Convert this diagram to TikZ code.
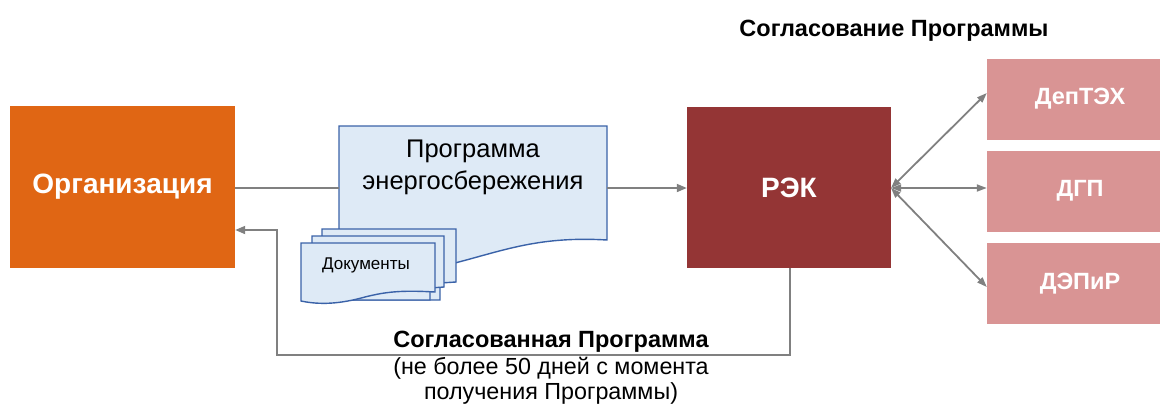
\documentclass[tikz,border=0pt]{standalone}
\usepackage{fontspec}
\setmainfont{Liberation Sans}
\usetikzlibrary{arrows.meta}
\definecolor{orgc}{HTML}{E06614}
\definecolor{rekc}{HTML}{943535}
\definecolor{depc}{HTML}{D99494}
\definecolor{docfill}{HTML}{DEEAF6}
\definecolor{docline}{HTML}{3A62A8}
\definecolor{conn}{HTML}{808080}
\tikzset{
  bigbox/.style={rectangle, inner sep=0pt, text=white, font=\bfseries\fontsize{28}{32}\selectfont},
  depbox/.style={rectangle, fill=depc, inner sep=0pt, minimum width=186pt, minimum height=81pt, text=white, font=\bfseries\fontsize{23.5}{27}\selectfont},
  docshape/.style={fill=docfill, draw=docline, line width=1.4pt, line join=miter},
  connector/.style={draw=conn, line width=1.8pt},
  arrowed/.style={connector, -{Triangle[length=10pt,width=8pt]}},
  biarrow/.style={connector, {Triangle[length=10pt,width=7pt]}-{Triangle[length=10pt,width=7pt]}},
  lbl/.style={inner sep=0pt, anchor=base, font=\bfseries\fontsize{23.5}{27}\selectfont},
  lblreg/.style={inner sep=0pt, anchor=base, font=\fontsize{23.3}{27}\selectfont}
}
\begin{document}
\begin{tikzpicture}[x=1pt,y=-1pt]
\useasboundingbox (0,0) rectangle (1160,405);
% Organisation
\node[bigbox, fill=orgc, minimum width=225pt, minimum height=162pt] (org) at (122.5,187) {Организация};
% RЭK
\node[bigbox, fill=rekc, minimum width=204pt, minimum height=161pt] (rek) at (789,187.5) {РЭК};
% right boxes
\node[depbox] (dep) at (1080,99) {ДепТЭХ};
\node[depbox] (dgp) at (1080,191) {ДГП};
\node[depbox] (depr) at (1080,283.5) {ДЭПиР};
% big document
\path[docshape] (339,126) -- (607,126) -- (607,240)
  .. controls (540,236) and (505,250) .. (455,263)
  .. controls (410,275) and (370,272) .. (339,262) -- cycle;
\node[inner sep=0pt, align=center, font=\fontsize{25.5}{32}\selectfont] (doctxt) at (473,167) {Программа\\энергосбережения};
\coordinate (docL) at (339,188);
\coordinate (docR) at (607,188);
% small documents
\path[docshape] (322,229) -- (456,229) -- (456,282) -- (440,283) -- (440,300) -- (322,300) -- cycle;
\path[docshape] (312,236) -- (444,236) -- (444,287) -- (430,288) -- (430,300) -- (312,300) -- cycle;
\path[docshape] (301,243) -- (435,243) -- (435,292)
  .. controls (400,290) and (385,292) .. (365,297)
  .. controls (340,304) and (320,305) .. (301,301) -- cycle;
\node[inner sep=0pt, font=\fontsize{17}{20}\selectfont] (docs) at (366,265) {Документы};
% connectors
\draw[connector] (org.east |- docL) -- (docL);
\draw[arrowed] (docR) -- (rek.west |- docR);
\coordinate (c1) at (790,355);
\coordinate (c2) at (277,355);
\coordinate (c3) at (277,230);
\draw[arrowed] (rek.south -| c1) -- (c1) -- (c2) -- (c3) -- (org.east |- c3);
\coordinate (rekR) at (891,188);
\draw[biarrow] (rekR) -- (dep.west |- 0,93);
\draw[biarrow] (rekR) -- (dgp.west |- rekR);
\draw[biarrow] (rekR) -- (depr.west |- 0,287);
% labels
\node[lbl] (t1) at (894,36) {Согласование Программы};
\node[lbl] (t2) at (551,347) {Согласованная Программа};
\node[lblreg] (t3) at (551,374) {(не более 50 дней с момента};
\node[lblreg] (t4) at (551,399) {получения  Программы)};
\end{tikzpicture}
\end{document}
